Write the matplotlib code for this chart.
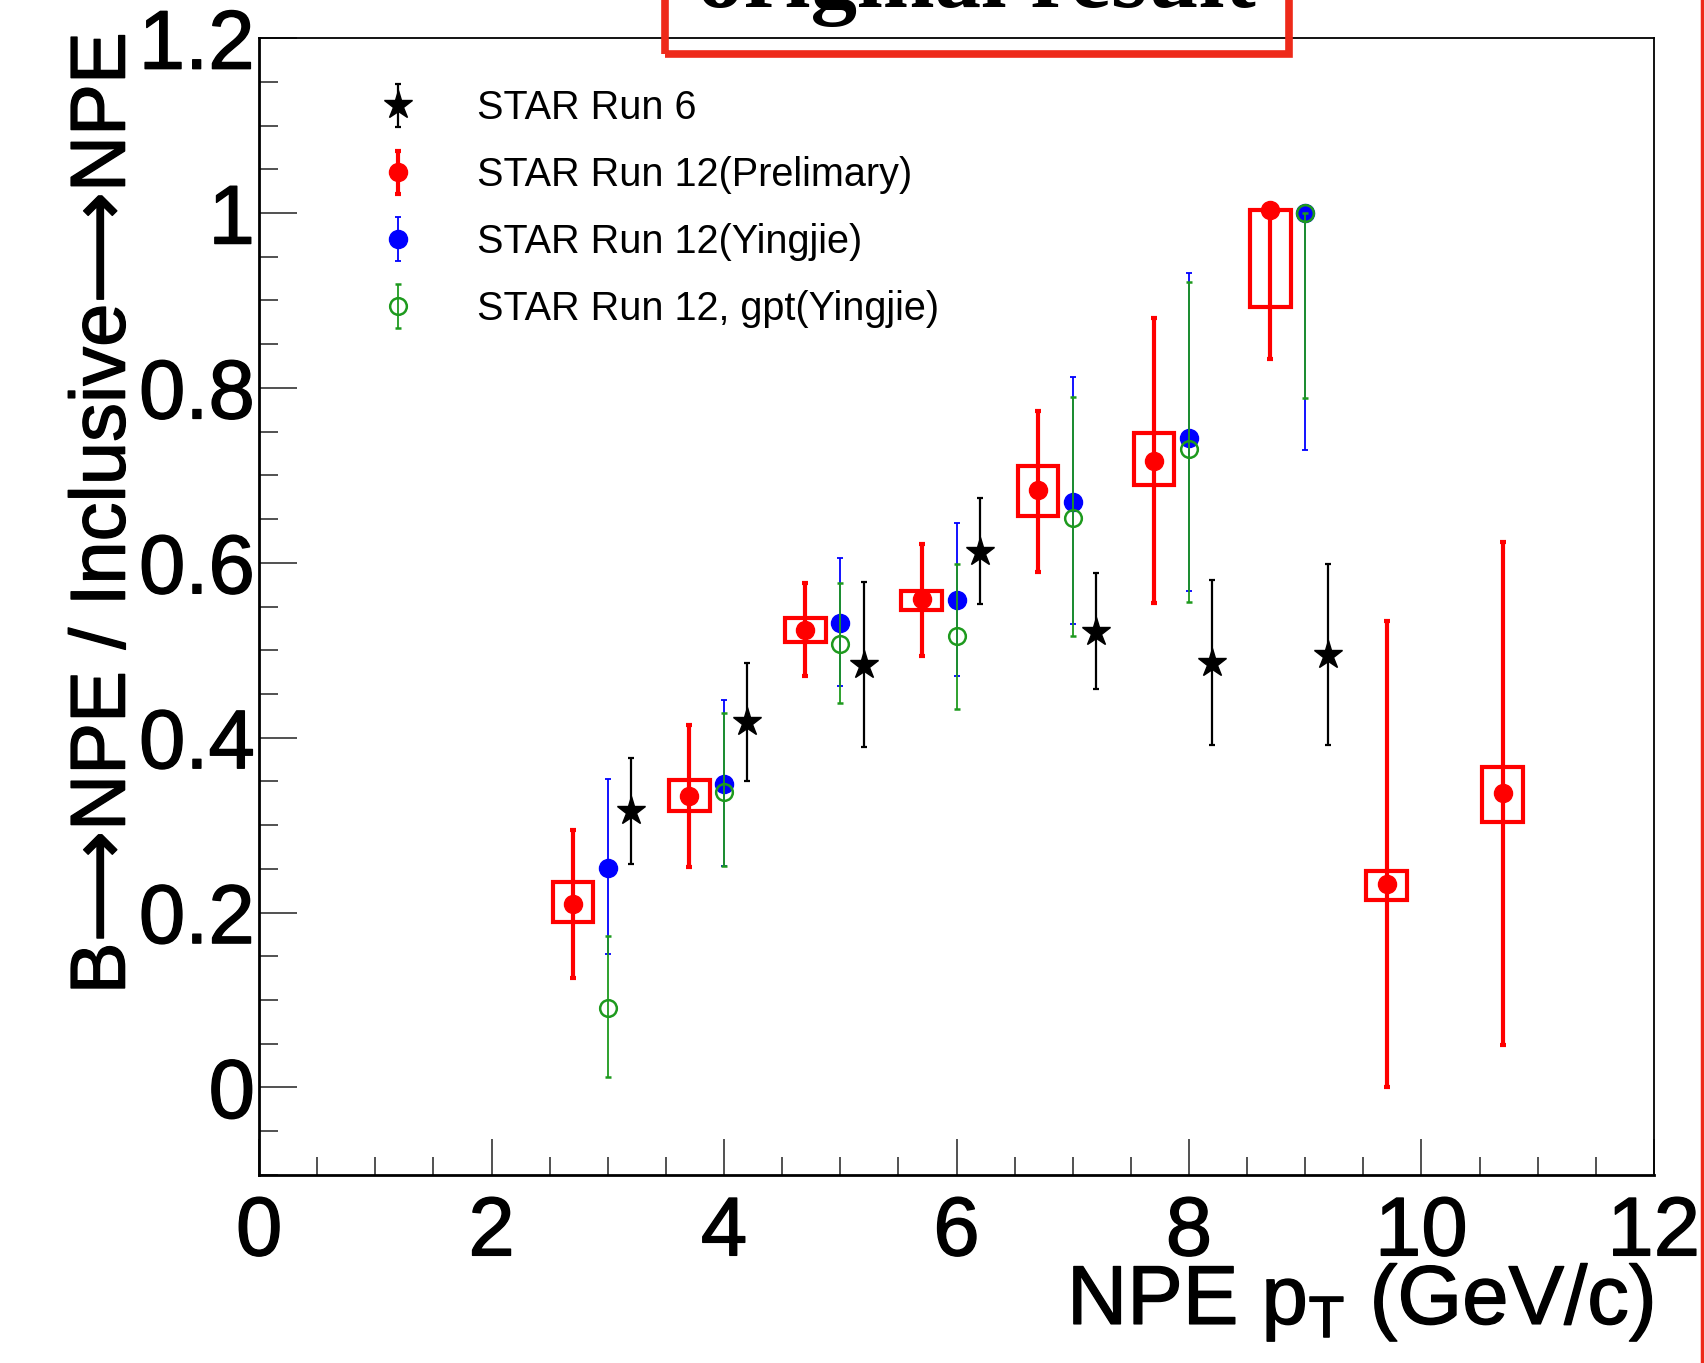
import matplotlib.pyplot as plt
import matplotlib.patheffects as pe
from matplotlib.patches import Rectangle
from matplotlib.legend_handler import HandlerErrorbar
from matplotlib.ticker import MultipleLocator, FuncFormatter

plt.rcParams['font.family'] = ['Liberation Sans', 'DejaVu Sans']
plt.rcParams['mathtext.fontset'] = 'custom'
plt.rcParams['mathtext.rm'] = 'Liberation Sans'

# STAR Run 6
run6_pt = [3.2, 4.2, 5.2, 6.2, 7.2, 8.2, 9.2]
run6_val = [0.316, 0.418, 0.483, 0.612, 0.521, 0.485, 0.495]
run6_hi = [0.377, 0.485, 0.578, 0.674, 0.588, 0.580, 0.599]
run6_lo = [0.256, 0.351, 0.389, 0.553, 0.456, 0.392, 0.392]

# STAR Run 12 preliminary: stat. bars + sys. boxes
prel_pt = [2.7, 3.7, 4.7, 5.7, 6.7, 7.7, 8.7, 9.7, 10.7]
prel_val = [0.210, 0.333, 0.523, 0.559, 0.683, 0.716, 1.003, 0.233, 0.337]
prel_hi = [0.294, 0.414, 0.577, 0.622, 0.774, 0.880, 1.003, 0.534, 0.624]
prel_lo = [0.125, 0.252, 0.470, 0.494, 0.590, 0.554, 0.833, 0.000, 0.048]
prel_sys_lo = [0.189, 0.316, 0.510, 0.546, 0.654, 0.689, 0.892, 0.214, 0.304]
prel_sys_hi = [0.235, 0.352, 0.537, 0.568, 0.711, 0.749, 1.003, 0.248, 0.366]

# STAR Run 12 (Yingjie)
yj_pt = [3, 4, 5, 6, 7, 8, 9]
yj_val = [0.251, 0.347, 0.531, 0.558, 0.670, 0.743, 1.000]
yj_hi = [0.353, 0.443, 0.605, 0.646, 0.813, 0.932, 1.000]
yj_lo = [0.153, 0.253, 0.459, 0.470, 0.530, 0.568, 0.729]

# STAR Run 12, gpt (Yingjie)
gpt_pt = [3, 4, 5, 6, 7, 8, 9]
gpt_val = [0.091, 0.338, 0.507, 0.516, 0.651, 0.730, 1.000]
gpt_hi = [0.173, 0.428, 0.577, 0.599, 0.790, 0.921, 1.000]
gpt_lo = [0.012, 0.253, 0.440, 0.433, 0.516, 0.555, 0.789]

labels = ["STAR Run 6", "STAR Run 12(Prelimary)", "STAR Run 12(Yingjie)", "STAR Run 12, gpt(Yingjie)"]


def yerr(val, lo, hi):
    return [[v - l for v, l in zip(val, lo)], [h - v for v, h in zip(val, hi)]]


fig = plt.figure(figsize=(17.05, 13.63), dpi=100)
ax = fig.add_axes([0.152, 0.138, 0.818, 0.834])

box_half = 0.175
for x, lo, hi in zip(prel_pt, prel_sys_lo, prel_sys_hi):
    ax.add_patch(Rectangle((x - box_half, lo), 2 * box_half, hi - lo, fill=False,
                           edgecolor='#ff0000', linewidth=3.0, zorder=2))

h_prel = ax.errorbar(prel_pt, prel_val, yerr=yerr(prel_val, prel_lo, prel_hi), fmt='o', color='#ff0000',
                     markersize=13, elinewidth=3.0, capsize=2.2, capthick=3.0, zorder=3)
h_run6 = ax.errorbar(run6_pt, run6_val, yerr=yerr(run6_val, run6_lo, run6_hi), fmt='*', color='black',
                     markersize=21, elinewidth=1.6, capsize=2.5, capthick=1.6, zorder=3)
h_yj = ax.errorbar(yj_pt, yj_val, yerr=yerr(yj_val, yj_lo, yj_hi), fmt='o', color='#0000ff',
                   markersize=13, elinewidth=1.3, capsize=2.5, capthick=1.3, zorder=4)
h_gpt = ax.errorbar(gpt_pt, gpt_val, yerr=yerr(gpt_val, gpt_lo, gpt_hi), fmt='o', color='#1e9a1e',
                    markerfacecolor='none', markeredgewidth=1.8, markersize=12, elinewidth=1.3,
                    capsize=2.5, capthick=1.3, zorder=5)

ax.set_xlim(0, 12)
ax.set_ylim(-0.1, 1.2)
ax.xaxis.set_major_locator(MultipleLocator(2))
ax.xaxis.set_minor_locator(MultipleLocator(0.5))
ax.yaxis.set_major_locator(MultipleLocator(0.2))
ax.yaxis.set_minor_locator(MultipleLocator(0.05))
ax.yaxis.set_major_formatter(FuncFormatter(lambda v, p: "%g" % round(v, 2)))
ax.tick_params(axis='both', which='both', direction='in', top=False, right=False,
               labelsize=60, width=1.1, color='#222222')
ax.tick_params(axis='x', which='major', length=26, pad=14)
ax.tick_params(axis='x', which='minor', length=13)
ax.tick_params(axis='y', which='major', length=27, pad=3)
ax.tick_params(axis='y', which='minor', length=14)
for side in ['left', 'bottom']:
    ax.spines[side].set_linewidth(2.0)
for side in ['top', 'right']:
    ax.spines[side].set_linewidth(1.3)

ax.set_xlabel(r"NPE $\mathregular{p_{T}}$ (GeV/c)", fontsize=60, loc='right')
ax.xaxis.set_label_coords(1.0, -0.076)
ax.set_ylabel("B\u27f6NPE / Inclusive\u27f6NPE", fontsize=56, loc='top')
ax.yaxis.set_label_coords(-0.085, 1.005)

# slightly heavier strokes on the big axis texts
thick = [pe.withStroke(linewidth=1.0, foreground='black')]
for t in ax.get_xticklabels() + ax.get_yticklabels() + [ax.xaxis.label, ax.yaxis.label]:
    t.set_path_effects(thick)

leg = ax.legend([h_run6, h_prel, h_yj, h_gpt], labels, loc='upper left', bbox_to_anchor=(0.085, 0.955),
                frameon=False, fontsize=28.5, handlelength=1.0, handletextpad=1.52, labelspacing=0.73,
                borderpad=0, borderaxespad=0, handler_map={type(h_prel): HandlerErrorbar(yerr_size=0.55)})

# red note box at the top
fig.text(976 / 1705, 1 - 7 / 1363, "original result", fontsize=67, fontweight='bold',
         family='Liberation Serif', ha='center', va='baseline')
fig.patches.append(Rectangle((665 / 1705, 1 - 54 / 1363), 624 / 1705, 0.2, fill=False,
                             edgecolor='#ee2a1a', linewidth=5.5, transform=fig.transFigure, figure=fig))
fig.lines.append(plt.Line2D([1702 / 1705, 1702 / 1705], [0, 1], color='#ee2a1a', linewidth=2.5,
                            transform=fig.transFigure, figure=fig))

plt.savefig("out.png", format="png", dpi=100)
plt.close(fig)
